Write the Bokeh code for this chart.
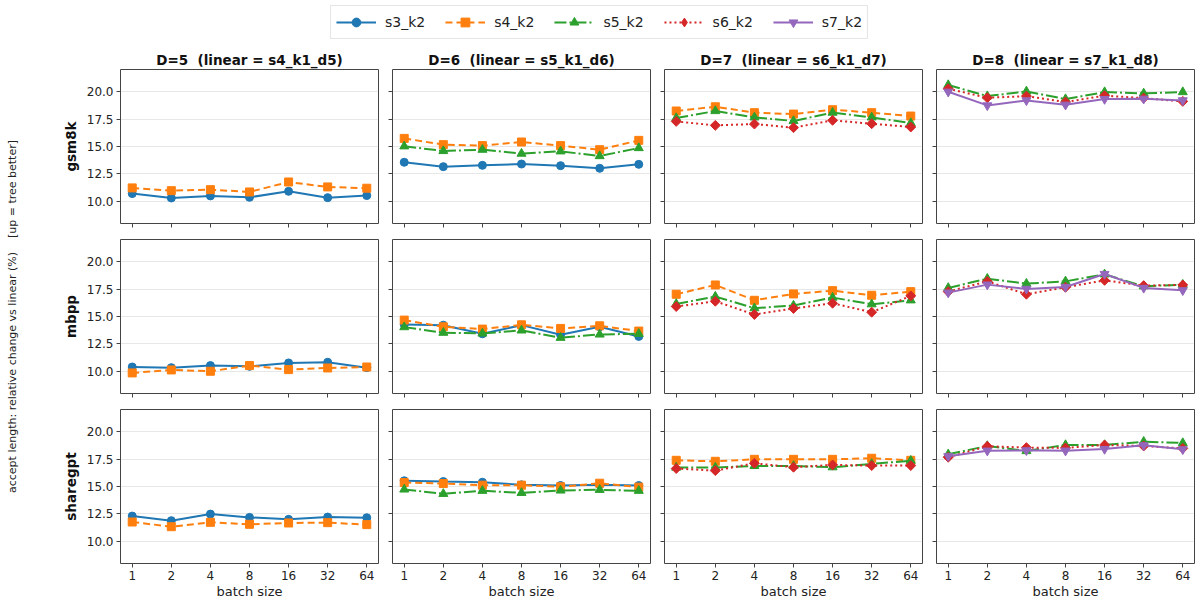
import math
from bokeh.plotting import figure
from bokeh.models import (FixedTicker, Legend, LegendItem, Label, ColumnDataSource,
                          Range1d, PrintfTickFormatter)
from bokeh.layouts import row, column
from bokeh.embed import file_html
from bokeh.resources import INLINE

# ---------------- data ----------------
batch_sizes = [1, 2, 4, 8, 16, 32, 64]
datasets = ["gsm8k", "mbpp", "sharegpt"]
depths = [5, 6, 7, 8]
linear_refs = ["s4_k1_d5", "s5_k1_d6", "s6_k1_d7", "s7_k1_d8"]
series_names = ["s3_k2", "s4_k2", "s5_k2", "s6_k2", "s7_k2"]
y_ticks = [10.0, 12.5, 15.0, 17.5, 20.0]

gsm8k_d5_s3 = [10.70, 10.30, 10.49, 10.36, 10.91, 10.33, 10.52]
gsm8k_d5_s4 = [11.22, 10.97, 11.06, 10.85, 11.76, 11.31, 11.19]
gsm8k_d6_s3 = [13.56, 13.16, 13.28, 13.40, 13.25, 13.01, 13.37]
gsm8k_d6_s4 = [15.74, 15.17, 15.08, 15.41, 15.08, 14.71, 15.56]
gsm8k_d6_s5 = [15.02, 14.59, 14.71, 14.35, 14.56, 14.13, 14.86]
gsm8k_d7_s4 = [18.24, 18.63, 18.09, 17.96, 18.36, 18.09, 17.78]
gsm8k_d7_s5 = [17.60, 18.24, 17.66, 17.33, 18.09, 17.66, 17.14]
gsm8k_d7_s6 = [17.29, 16.93, 17.05, 16.72, 17.39, 17.08, 16.78]
gsm8k_d8_s5 = [20.61, 19.60, 20.03, 19.33, 19.97, 19.85, 19.97]
gsm8k_d8_s6 = [20.27, 19.45, 19.60, 19.06, 19.64, 19.42, 19.12]
gsm8k_d8_s7 = [20.00, 18.75, 19.21, 18.81, 19.33, 19.36, 19.21]

mbpp_d5_s3 = [10.39, 10.33, 10.52, 10.45, 10.76, 10.82, 10.33]
mbpp_d5_s4 = [9.85, 10.12, 10.00, 10.52, 10.15, 10.30, 10.39]
mbpp_d6_s3 = [14.27, 14.21, 13.42, 14.21, 13.33, 14.06, 13.18]
mbpp_d6_s4 = [14.67, 14.06, 13.85, 14.24, 13.91, 14.15, 13.67]
mbpp_d6_s5 = [14.03, 13.52, 13.45, 13.73, 13.06, 13.36, 13.42]
mbpp_d7_s4 = [17.03, 17.88, 16.48, 17.06, 17.36, 16.94, 17.27]
mbpp_d7_s5 = [16.15, 16.82, 15.76, 16.00, 16.73, 16.12, 16.48]
mbpp_d7_s6 = [15.91, 16.39, 15.18, 15.73, 16.21, 15.39, 16.88]
mbpp_d8_s5 = [17.61, 18.45, 18.00, 18.21, 18.85, 17.76, 17.91]
mbpp_d8_s6 = [17.27, 18.21, 17.03, 17.67, 18.30, 17.82, 17.88]
mbpp_d8_s7 = [17.18, 17.91, 17.52, 17.70, 18.88, 17.61, 17.39]

sharegpt_d5_s3 = [12.30, 11.88, 12.48, 12.18, 12.00, 12.21, 12.15]
sharegpt_d5_s4 = [11.76, 11.33, 11.73, 11.55, 11.67, 11.70, 11.52]
sharegpt_d6_s3 = [15.52, 15.45, 15.39, 15.15, 15.09, 15.15, 15.09]
sharegpt_d6_s4 = [15.36, 15.27, 15.12, 15.12, 14.97, 15.30, 14.94]
sharegpt_d6_s5 = [14.73, 14.33, 14.61, 14.42, 14.64, 14.70, 14.61]
sharegpt_d7_s4 = [17.39, 17.30, 17.48, 17.48, 17.48, 17.58, 17.39]
sharegpt_d7_s5 = [16.73, 16.73, 16.88, 16.88, 16.76, 17.06, 17.36]
sharegpt_d7_s6 = [16.64, 16.45, 17.12, 16.76, 16.97, 16.91, 16.91]
sharegpt_d8_s5 = [17.94, 18.70, 18.24, 18.79, 18.79, 19.09, 18.97]
sharegpt_d8_s6 = [17.67, 18.67, 18.55, 18.52, 18.79, 18.70, 18.48]
sharegpt_d8_s7 = [17.76, 18.27, 18.30, 18.27, 18.42, 18.76, 18.39]

panel_data = {
    ("gsm8k", 5): {"s3_k2": gsm8k_d5_s3, "s4_k2": gsm8k_d5_s4},
    ("gsm8k", 6): {"s3_k2": gsm8k_d6_s3, "s4_k2": gsm8k_d6_s4, "s5_k2": gsm8k_d6_s5},
    ("gsm8k", 7): {"s4_k2": gsm8k_d7_s4, "s5_k2": gsm8k_d7_s5, "s6_k2": gsm8k_d7_s6},
    ("gsm8k", 8): {"s5_k2": gsm8k_d8_s5, "s6_k2": gsm8k_d8_s6, "s7_k2": gsm8k_d8_s7},
    ("mbpp", 5): {"s3_k2": mbpp_d5_s3, "s4_k2": mbpp_d5_s4},
    ("mbpp", 6): {"s3_k2": mbpp_d6_s3, "s4_k2": mbpp_d6_s4, "s5_k2": mbpp_d6_s5},
    ("mbpp", 7): {"s4_k2": mbpp_d7_s4, "s5_k2": mbpp_d7_s5, "s6_k2": mbpp_d7_s6},
    ("mbpp", 8): {"s5_k2": mbpp_d8_s5, "s6_k2": mbpp_d8_s6, "s7_k2": mbpp_d8_s7},
    ("sharegpt", 5): {"s3_k2": sharegpt_d5_s3, "s4_k2": sharegpt_d5_s4},
    ("sharegpt", 6): {"s3_k2": sharegpt_d6_s3, "s4_k2": sharegpt_d6_s4, "s5_k2": sharegpt_d6_s5},
    ("sharegpt", 7): {"s4_k2": sharegpt_d7_s4, "s5_k2": sharegpt_d7_s5, "s6_k2": sharegpt_d7_s6},
    ("sharegpt", 8): {"s5_k2": sharegpt_d8_s5, "s6_k2": sharegpt_d8_s6, "s7_k2": sharegpt_d8_s7},
}

# ---------------- styles ----------------
STYLE = {
    "s3_k2": dict(color="#1f77b4", dash="solid", marker="circle", size=8, angle=0.0, leg_marker="circle"),
    "s4_k2": dict(color="#ff7f0e", dash="7 4", marker="square", size=8, angle=0.0, leg_marker="square"),
    "s5_k2": dict(color="#2ca02c", dash="12 3 2 3", marker="triangle", size=9, angle=0.0, leg_marker="triangle"),
    "s6_k2": dict(color="#d62728", dash="2 3", marker="square", size=7, angle=math.pi / 4, leg_marker="diamond"),
    "s7_k2": dict(color="#9467bd", dash="solid", marker="inverted_triangle", size=9, angle=0.0, leg_marker="inverted_triangle"),
}
FONT = "DejaVu Sans"
FW, FH = 258, 154
LW = 2.0
EDGE = "#444444"
LABEL_W = 24
LEFT1 = 96
TOP1 = 25
BOT3 = 38
LEG_H = 44
x_idx = list(range(len(batch_sizes)))


def draw_series(p, name, src, legend=False):
    st = STYLE[name]
    r1 = p.line(x="x", y=name, source=src, line_color=st["color"], line_width=LW,
                line_dash=st["dash"])
    r2 = p.scatter(x="x", y=name, source=src,
                   marker=st["leg_marker"] if legend else st["marker"], size=st["size"],
                   angle=0.0 if legend else st["angle"],
                   fill_color=st["color"], line_color=st["color"])
    return r1, r2


def make_panel(ri, ci):
    ds = datasets[ri]
    d = depths[ci]
    first_col = ci == 0
    last_row = ri == 2
    p = figure(frame_width=FW, frame_height=FH,
               x_range=Range1d(-0.3, 6.3), y_range=Range1d(7.97, 22.03),
               output_backend="svg", toolbar_location=None,
               min_border_left=LEFT1 if first_col else 7,
               min_border_right=4 if ci == 3 else 7,
               min_border_top=TOP1 if ri == 0 else 8,
               min_border_bottom=BOT3 if last_row else 8)
    p.background_fill_color = "white"
    p.border_fill_color = "white"
    p.outline_line_color = EDGE
    p.outline_line_width = 1

    if ri == 0:
        p.title.text = "D=%d\u00a0\u00a0(linear = %s)" % (d, linear_refs[ci])
        p.title.align = "center"
        p.title.text_font = FONT
        p.title.text_font_style = "bold"
        p.title.text_font_size = "13.5px"
        p.title.text_color = "#111111"
        p.title.standoff = 4
        p.title.offset = 0

    p.xaxis.ticker = FixedTicker(ticks=x_idx)
    p.yaxis.ticker = FixedTicker(ticks=y_ticks)
    p.yaxis.formatter = PrintfTickFormatter(format="%.1f")
    for ax in (p.xaxis[0], p.yaxis[0]):
        ax.axis_line_color = None
        ax.major_tick_line_color = EDGE
        ax.major_tick_out = 4
        ax.major_tick_in = 0
        ax.minor_tick_line_color = None
        ax.major_label_text_font = FONT
        ax.major_label_text_font_size = "12px"
        ax.major_label_text_color = "#222222"
        ax.major_label_standoff = 3
    if not last_row:
        p.xaxis.major_label_overrides = {i: "" for i in x_idx}
        p.xaxis.major_label_text_font_size = "1px"
        p.xaxis.major_label_standoff = 0
    else:
        p.xaxis.major_label_overrides = {i: str(b) for i, b in zip(x_idx, batch_sizes)}
        p.xaxis.axis_label = "batch size"
        p.xaxis.axis_label_text_font = FONT
        p.xaxis.axis_label_text_font_size = "13px"
        p.xaxis.axis_label_text_font_style = "normal"
        p.xaxis.axis_label_standoff = 1
        p.xaxis.axis_label_text_color = "#222222"
    if not first_col:
        p.yaxis.major_label_overrides = {t: "" for t in y_ticks}
        p.yaxis.major_label_text_font_size = "1px"
        p.yaxis.major_label_standoff = 0
    else:
        p.yaxis.axis_label = ds
        p.yaxis.axis_label_text_font = FONT
        p.yaxis.axis_label_text_font_size = "13.5px"
        p.yaxis.axis_label_text_font_style = "bold"
        p.yaxis.axis_label_standoff = 5
        p.yaxis.axis_label_text_color = "#111111"

    p.xgrid.grid_line_color = None
    p.ygrid.grid_line_color = "#b0b0b0"
    p.ygrid.grid_line_alpha = 0.3

    series = panel_data[(ds, d)]
    cols = {"x": x_idx}
    cols.update(series)
    src = ColumnDataSource(cols)
    for name in series_names:
        if name in series:
            draw_series(p, name, src)
    return p


grid_rows = []
for ri in range(3):
    grid_rows.append(row(*[make_panel(ri, ci) for ci in range(4)]))
grid = column(*grid_rows)

TOTAL_W = LABEL_W + (LEFT1 + FW + 7) + 2 * (7 + FW + 7) + (7 + FW + 4)
GRID_H = (TOP1 + FH + 8) + (8 + FH + 8) + (8 + FH + BOT3)

# y label figure
lab = figure(width=LABEL_W, height=GRID_H, x_range=Range1d(0, LABEL_W), y_range=Range1d(0, GRID_H),
             x_axis_location=None, y_axis_location=None, min_border=0,
             output_backend="svg", toolbar_location=None)
lab.outline_line_color = None
lab.grid.visible = False
frame_center = (BOT3 + (GRID_H - TOP1)) / 2.0
lab.add_layout(Label(x=12, y=frame_center, angle=math.pi / 2,
                     text="accept length: relative change vs linear (%)\u00a0\u00a0\u00a0\u00a0[up = tree better]",
                     text_align="center", text_baseline="middle", text_font=FONT,
                     text_font_size="11px", text_color="#222222"))

# legend figure
lf = figure(width=TOTAL_W, height=LEG_H, x_range=Range1d(0, 1), y_range=Range1d(0, 1),
            x_axis_location=None, y_axis_location=None, min_border=0,
            output_backend="svg", toolbar_location=None)
lf.outline_line_color = None
lf.grid.visible = False
items = []
for name in series_names:
    blank = ColumnDataSource({"x": [float("nan")], name: [float("nan")]})
    r1, r2 = draw_series(lf, name, blank, legend=True)
    items.append(LegendItem(label=name, renderers=[r1, r2]))
leg = Legend(items=items, orientation="horizontal", location="top_center",
             label_text_font=FONT, label_text_font_size="14px", label_text_color="#222222",
             glyph_width=40, glyph_height=22, label_standoff=9, spacing=20,
             padding=5, margin=5,
             border_line_color="#cccccc", border_line_width=1,
             background_fill_color="white", background_fill_alpha=0.9)
lf.add_layout(leg, "center")

page = column(lf, row(lab, grid))

open("out.html", "w").write(file_html(page, INLINE))
